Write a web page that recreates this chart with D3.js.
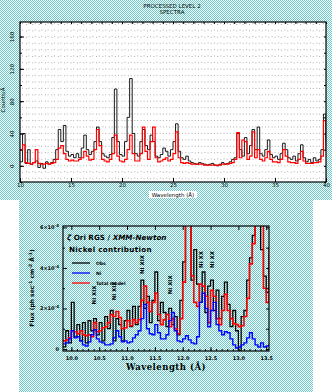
<!DOCTYPE html>
<html><head><meta charset="utf-8">
<script src="https://cdn.jsdelivr.net/npm/d3@7"></script>
<style>html,body{margin:0;padding:0;background:#fff}svg{display:block}</style>
</head><body>
<script>
// ---------- DATA ----------
// Top panel: RGS spectrum, bins of 0.25 Å starting at 10 Å
const topStart = 10, topStep = 0.25;
const topObs = [5,40,3,20,2,4,6,-2,3,-3,5,2,4,8,20,45,30,50,18,12,14,10,15,10,22,38,20,14,18,30,48,30,15,12,10,14,35,95,30,14,12,30,60,108,40,15,12,30,45,25,20,38,30,12,10,14,22,18,12,20,30,52,18,10,8,12,6,4,3,2,4,3,2,1,2,3,1,0,2,4,2,3,5,8,10,40,20,12,35,15,25,45,20,48,15,12,20,32,14,10,12,8,15,28,20,10,8,12,6,15,26,10,5,8,4,10,6,8,20,64,30];
const topModel = [20,26,4,3,2,4,20,3,2,2,3,2,3,4,8,22,25,15,8,6,7,6,6,8,10,18,12,7,8,20,45,25,8,6,5,8,15,38,12,6,5,8,20,38,15,6,6,15,48,18,8,30,48,10,5,6,8,10,6,8,15,42,10,4,3,4,3,2,2,2,2,2,1,1,1,1,1,1,1,2,2,2,3,4,8,41,10,32,30,8,12,42,10,20,8,6,10,18,8,5,5,4,8,20,12,5,4,4,3,8,18,6,3,3,3,4,4,5,12,56,20];
const topXTicks = [10,15,20,25,30,35,40];
const topYTicks = [0,40,80,120,160];

// Bottom panel: zeta Ori, bins of 0.05 Å starting at 9.85 Å, flux in 1e-4 units
const botStart = 9.85, botStep = 0.05;
const botObs = [0.1,0.9,0.3,2.3,0.6,1.2,0.4,1.3,0.3,1.4,0.9,1.5,0.7,1.3,0.4,1.6,1.0,1.9,0.4,1.5,1.2,0.4,1.4,1.9,1.1,2.1,1.2,2.1,3.4,2.0,2.6,1.3,2.4,3.8,1.4,2.3,1.8,1.1,2.0,1.2,1.6,0.7,2.4,4.3,6.5,6.5,3.4,4.9,3.2,2.3,3.8,1.8,3.1,3.4,1.9,2.9,1.5,2.6,3.3,2.2,1.1,1.9,0.9,-0.1,1.6,1.9,3.4,4.5,5.6,6.5,6.5,4.9,3.6,2.8,4.7];
const botNi = [0.25,0.3,0.5,0.9,0.55,0.6,0.4,0.2,0.15,0.35,0.7,0.95,0.5,0.35,0.3,0.2,0.2,0.25,0.55,0.9,0.6,0.35,0.4,0.3,0.35,0.55,0.7,0.9,1.5,2.2,1.0,0.75,0.7,1.2,0.8,0.5,0.5,0.7,1.4,1.8,0.9,0.4,0.35,0.5,0.65,0.45,0.3,0.25,0.6,2.3,2.75,2.0,1.1,1.9,2.3,1.2,0.9,0.7,0.85,0.8,0.5,0.2,0.05,0.1,0.2,0.3,0.55,0.8,0.5,0.2,0.1,0.3,0.1,0.15,0.25];
const botTotal = [0.4,0.45,0.55,0.9,0.85,0.75,0.9,0.7,0.65,0.7,0.6,1.3,0.85,0.9,1.05,1.1,1.3,1.7,1.6,1.85,1.55,1.0,1.05,1.4,1.15,1.45,1.3,1.45,2.4,3.1,2.3,1.85,2.3,2.75,1.7,1.2,1.45,1.7,1.1,1.5,1.0,0.75,1.5,3.3,6.5,6.5,3.6,2.3,2.1,3.2,3.1,2.6,1.3,2.9,2.6,1.5,1.2,1.9,2.7,1.9,1.5,1.25,1.2,1.1,1.15,1.6,2.5,4.2,5.2,6.5,6.5,6.5,3.0,2.3,5.0];
const botXTicks = [10.0,10.5,11.0,11.5,12.0,12.5,13.0,13.5];
const botYTicks = [0,2,4,6];
const lineLabels = ["Ni XIX","Ni XIX","Ni XIX","Ni XIX","Ni XX","Ni XX"];
const lineLabelWl = [10.41,10.76,11.26,11.78,12.33,12.53];
const lineLabelVal = [2.2,2.4,3.7,2.7,4.0,4.0];
const legendNames = ["Obs","Ni","Total model"];

// ---------- DRAW ----------
const W = 332, H = 392;
const svg = d3.select("body").append("svg").attr("width", W).attr("height", H);
const defs = svg.append("defs");
const pat = defs.append("pattern").attr("id","chk").attr("width",2).attr("height",2).attr("patternUnits","userSpaceOnUse");
pat.append("rect").attr("width",2).attr("height",2).attr("fill","#ffffff");
pat.append("rect").attr("x",0).attr("y",0).attr("width",1).attr("height",1).attr("fill","#66caca");
pat.append("rect").attr("x",1).attr("y",1).attr("width",1).attr("height",1).attr("fill","#66caca");

svg.append("rect").attr("width",W).attr("height",H).attr("fill","url(#chk)");
svg.append("rect").attr("x",0).attr("y",200).attr("width",19).attr("height",192).attr("fill","#fff");
svg.append("rect").attr("x",313).attr("y",200).attr("width",19).attr("height",192).attr("fill","#fff");

// ===== Top panel =====
const xT = d3.scaleLinear([10,40],[20,326]);
const yT = d3.scaleLinear([-20,178],[182,22]);
const tf = "'DejaVu Sans', sans-serif";

svg.append("text").attr("x",172).attr("y",8).attr("text-anchor","middle").attr("font-family",tf).attr("font-size",5.5).attr("fill","#000").text("PROCESSED LEVEL 2");
svg.append("text").attr("x",172).attr("y",14).attr("text-anchor","middle").attr("font-family",tf).attr("font-size",5.5).attr("fill","#000").text("SPECTRA");

svg.append("rect").attr("x",20).attr("y",22).attr("width",306).attr("height",160).attr("fill","#fff");
defs.append("clipPath").attr("id","cT").append("rect").attr("x",20).attr("y",22).attr("width",306).attr("height",160);
defs.append("clipPath").attr("id","cB").append("rect").attr("x",63).attr("y",226).attr("width",206).attr("height",125);

// dotted grid
const gGrid = svg.append("g").attr("stroke","#999").attr("stroke-width",0.8).attr("stroke-dasharray","1,5.4");
gGrid.selectAll("line.v").data(d3.range(10.625,40,0.625)).join("line")
  .attr("x1",d=>xT(d)).attr("x2",d=>xT(d)).attr("y1",24).attr("y2",182);
gGrid.selectAll("line.h").data(d3.range(-16,178,8)).join("line")
  .attr("y1",d=>yT(d)).attr("y2",d=>yT(d)).attr("x1",22).attr("x2",326);

const topLine = arr => d3.line().curve(d3.curveStepAfter)
  .x((d,i)=>xT(topStart + i*topStep)).y(d=>yT(d))(arr);
const gT = svg.append("g").attr("clip-path","url(#cT)");
gT.append("path").attr("d",topLine(topObs)).attr("fill","none").attr("stroke","#000").attr("stroke-width",0.9);
gT.append("path").attr("d",topLine(topModel)).attr("fill","none").attr("stroke","#f00").attr("stroke-width",1.2);

svg.append("rect").attr("x",20).attr("y",22).attr("width",306).attr("height",160).attr("fill","none").attr("stroke","#000").attr("stroke-width",1.2);

// top axes
const axB = svg.append("g").attr("transform","translate(0,182)")
  .call(d3.axisBottom(xT).tickValues(topXTicks).tickSize(-4).tickPadding(1).tickFormat(d3.format("d")));
const axTop = svg.append("g").attr("transform","translate(0,22)")
  .call(d3.axisTop(xT).tickValues(d3.range(10,41,1)).tickSize(-2).tickFormat(""));
const axL = svg.append("g").attr("transform","translate(20,0)")
  .call(d3.axisLeft(yT).tickValues(topYTicks).tickSize(-4).tickFormat(d3.format("d")));
const axLm = svg.append("g").attr("transform","translate(20,0)")
  .call(d3.axisLeft(yT).tickValues(d3.range(-20,178,20)).tickSize(-2).tickFormat(""));
const axR = svg.append("g").attr("transform","translate(326,0)")
  .call(d3.axisRight(yT).tickValues(d3.range(-20,178,20)).tickSize(-2).tickFormat(""));
[axB,axTop,axL,axLm,axR].forEach(a=>{a.select(".domain").remove();a.selectAll("text").attr("font-family",tf).attr("font-size",5.5).attr("fill","#000");});
axL.selectAll(".tick").each(function(d){
  d3.select(this).select("text").attr("x",null).attr("dy",null).attr("text-anchor","middle")
    .attr("transform","translate(-6,0) rotate(-90)").attr("y",0);
});
svg.append("rect").attr("x",149).attr("y",191).attr("width",48).attr("height",7).attr("fill","#fff");
svg.append("text").attr("x",173).attr("y",197).attr("text-anchor","middle").attr("font-family",tf).attr("font-size",5.5).text("Wavelength (Å)");
svg.append("text").attr("transform","translate(5,100) rotate(-90)").attr("text-anchor","middle").attr("font-family",tf).attr("font-size",5.5).text("Counts/Å");

// ===== Bottom panel =====
const xB = d3.scaleLinear([9.85,13.55],[63,269]);
const yB = d3.scaleLinear([-0.1,6.07],[351,226]);
const bf = "'DejaVu Sans', sans-serif";

const botLine = arr => d3.line().curve(d3.curveStepAfter)
  .x((d,i)=>xB(botStart + i*botStep)).y(d=>yB(d))(arr);
const gB = svg.append("g").attr("clip-path","url(#cB)");
gB.append("path").attr("d",botLine(botObs)).attr("fill","none").attr("stroke","#000").attr("stroke-width",1.3);
gB.append("path").attr("d",botLine(botTotal)).attr("fill","none").attr("stroke","#f00").attr("stroke-width",1.6);
gB.append("path").attr("d",botLine(botNi)).attr("fill","none").attr("stroke","#00f").attr("stroke-width",1.4);

svg.append("rect").attr("x",63).attr("y",226).attr("width",206).attr("height",125).attr("fill","none").attr("stroke","#000").attr("stroke-width",1.2);

const bx = svg.append("g").attr("transform","translate(0,351)")
  .call(d3.axisBottom(xB).tickValues(botXTicks).tickSize(-4).tickPadding(5).tickFormat(d3.format(".1f")));
const bxm = svg.append("g").attr("transform","translate(0,351)")
  .call(d3.axisBottom(xB).tickValues(d3.range(9.9,13.55,0.1)).tickSize(-2).tickFormat(""));
const bxt = svg.append("g").attr("transform","translate(0,226)")
  .call(d3.axisTop(xB).tickValues(botXTicks).tickSize(-4).tickFormat(""));
const by = svg.append("g").attr("transform","translate(63,0)")
  .call(d3.axisLeft(yB).tickValues(botYTicks).tickSize(-4).tickPadding(4).tickFormat(""));
const bym = svg.append("g").attr("transform","translate(63,0)")
  .call(d3.axisLeft(yB).tickValues(d3.range(1,7,2)).tickSize(-2).tickFormat(""));
const byr = svg.append("g").attr("transform","translate(269,0)")
  .call(d3.axisRight(yB).tickValues(d3.range(0,7,1)).tickSize(-3).tickFormat(""));
[bx,bxm,bxt,by,bym,byr].forEach(a=>{a.select(".domain").remove();a.selectAll("text").attr("font-family",bf).attr("font-size",5).attr("font-weight","bold").attr("fill","#000");});

// y tick labels with superscripts
const yl = svg.append("g").attr("font-family",bf).attr("font-size",5).attr("font-weight","bold").attr("text-anchor","end");
yl.selectAll("text").data(botYTicks).join("text")
  .attr("x",59).attr("y",d=>yB(d)+2)
  .each(function(d){
    const t=d3.select(this);
    if(d===0){t.text("0");return;}
    t.append("tspan").text(d+"×10");
    t.append("tspan").attr("dy",-2).attr("font-size",4).text("-4");
  });

svg.append("text").attr("x",166).attr("y",370).attr("text-anchor","middle").attr("font-family","'DejaVu Serif', serif").attr("font-weight","bold").attr("font-size",8.5).attr("letter-spacing",0.5).text("Wavelength (Å)");
const yt = svg.append("text").attr("transform","translate(34,288) rotate(-90)").attr("text-anchor","middle").attr("font-family",bf).attr("font-weight","bold").attr("font-size",6);
yt.append("tspan").text("Flux (ph sec");
yt.append("tspan").attr("dy",-2).attr("font-size",4.5).text("-1");
yt.append("tspan").attr("dy",2).text(" cm");
yt.append("tspan").attr("dy",-2).attr("font-size",4.5).text("-2");
yt.append("tspan").attr("dy",2).text(" Å");
yt.append("tspan").attr("dy",-2).attr("font-size",4.5).text("-1");
yt.append("tspan").attr("dy",2).text(")");

// legend
const t1 = svg.append("text").attr("x",67).attr("y",240).attr("font-family",bf).attr("font-weight","bold").attr("font-size",7.2);
t1.append("tspan").attr("font-style","italic").text("ζ");
t1.append("tspan").text(" Ori RGS / ");
t1.append("tspan").attr("font-style","italic").text("XMM-Newton");
svg.append("text").attr("x",69).attr("y",252).attr("font-family",bf).attr("font-weight","bold").attr("font-size",7.2).attr("letter-spacing",0.3).text("Nickel contribution");
const legCol = ["#000","#00f","#f00"];
const lg = svg.append("g");
legendNames.forEach((n,i)=>{
  const y = 263 + i*10;
  lg.append("line").attr("x1",72).attr("x2",90).attr("y1",y).attr("y2",y).attr("stroke",legCol[i]).attr("stroke-width",1.3);
  lg.append("text").attr("x",96).attr("y",y+2).attr("font-family",bf).attr("font-weight","bold").attr("font-size",4.5).text(n);
});

// line labels
svg.append("g").selectAll("text").data(lineLabels).join("text")
  .attr("transform",(d,i)=>`translate(${xB(lineLabelWl[i])+2},${yB(lineLabelVal[i])}) rotate(-90)`)
  .attr("text-anchor","start").attr("font-family",bf).attr("font-weight","bold").attr("font-size",5.5)
  .text(d=>d);
</script>
</body></html>
